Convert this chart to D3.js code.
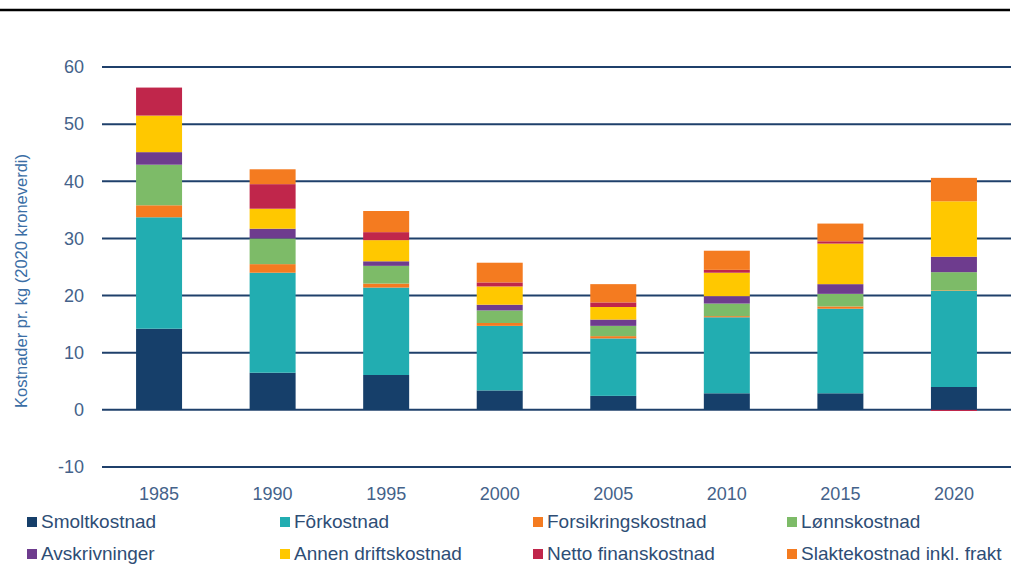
<!DOCTYPE html>
<html>
<head>
<meta charset="utf-8">
<script src="https://cdn.jsdelivr.net/npm/d3@7"></script>
<style>
  body { margin: 0; background: #fff; }
  svg { display: block; font-family: "Liberation Sans", Arial, sans-serif; }
</style>
</head>
<body>
<div id="chart"></div>
<script>
// data (NOK per kg, 2020 value)
const years = ["1985", "1990", "1995", "2000", "2005", "2010", "2015", "2020"];
const seriesNames = ["Smoltkostnad", "Fôrkostnad", "Forsikringskostnad", "Lønnskostnad",
  "Avskrivninger", "Annen driftskostnad", "Netto finanskostnad", "Slaktekostnad inkl. frakt"];
const smolt      = [14.2, 6.5, 6.1, 3.4, 2.45, 2.9, 2.9, 4.0];
const forkost    = [19.5, 17.5, 15.3, 11.3, 10.05, 13.3, 14.8, 16.8];
const forsikring = [2.1, 1.5, 0.7, 0.5, 0.4, 0.2, 0.4, 0.1];
const lonn       = [7.1, 4.5, 3.1, 2.2, 1.8, 2.2, 2.2, 3.2];
const avskr      = [2.2, 1.7, 0.8, 1.0, 1.1, 1.3, 1.7, 2.7];
const annen      = [6.4, 3.5, 3.7, 3.2, 2.2, 4.1, 7.1, 9.7];
const netto      = [4.9, 4.3, 1.4, 0.7, 0.8, 0.5, 0.4, -0.2];
const slakte     = [0, 2.6, 3.7, 3.45, 3.2, 3.35, 3.1, 4.1];
const yTicks = [-10, 0, 10, 20, 30, 40, 50, 60];
const colors = ["#163f6a", "#22adb1", "#f47b20", "#7dbb68", "#6e3c8e", "#ffc800", "#c0264b", "#f47b20"];

const allSeries = [smolt, forkost, forsikring, lonn, avskr, annen, netto, slakte];
const table = years.map((y, i) => {
  const row = { year: y };
  seriesNames.forEach((s, j) => { row[s] = allSeries[j][i]; });
  return row;
});

const W = 1018, H = 565;
const margin = { top: 67, right: 7, bottom: 98, left: 102 };
const width = W - margin.left - margin.right;
const height = H - margin.top - margin.bottom;

const svg = d3.select("#chart").append("svg").attr("width", W).attr("height", H);

// thin rule at the top of the figure
svg.append("line").attr("x1", 0).attr("x2", 1010).attr("y1", 10).attr("y2", 10)
  .attr("stroke", "#000").attr("stroke-width", 2.5);

const g = svg.append("g").attr("transform", `translate(${margin.left},${margin.top})`);

const x = d3.scaleBand().domain(years).range([0, width]).paddingInner(0.595).paddingOuter(0.3);
const y = d3.scaleLinear().domain([-10, 60]).range([height, 0]);

// grid
g.append("g").selectAll("line").data(yTicks).join("line")
  .attr("x1", 0).attr("x2", width)
  .attr("y1", d => y(d)).attr("y2", d => y(d))
  .attr("stroke", "#1f406b").attr("stroke-width", 2);

const yAxis = g.append("g").call(d3.axisLeft(y).tickValues(yTicks).tickSize(0).tickPadding(18)
  .tickFormat(d => String(d)));
yAxis.select(".domain").remove();
yAxis.selectAll("text").attr("fill", "#44628a").attr("font-size", 18)
  .attr("font-family", "Liberation Sans, Arial, sans-serif");

const stack = d3.stack().keys(seriesNames).offset(d3.stackOffsetDiverging);
const layers = stack(table);

g.append("g").selectAll("g").data(layers).join("g")
  .attr("fill", (d, i) => colors[i])
  .selectAll("rect").data(d => d).join("rect")
  .attr("x", d => x(d.data.year))
  .attr("width", x.bandwidth())
  .attr("y", d => y(Math.max(d[0], d[1])))
  .attr("height", d => Math.abs(y(d[0]) - y(d[1])));

// x labels
g.append("g").selectAll("text").data(years).join("text")
  .attr("x", d => x(d) + x.bandwidth() / 2)
  .attr("y", height + 33)
  .attr("text-anchor", "middle")
  .attr("fill", "#44628a").attr("font-size", 18)
  .text(d => d);

// y title
svg.append("text")
  .attr("transform", "translate(27,281) rotate(-90)")
  .attr("text-anchor", "middle")
  .attr("fill", "#3b6ea5").attr("font-size", 16.5)
  .text("Kostnader pr. kg (2020 kroneverdi)");

// legend
const legX = [27, 280, 533, 787];
const legend = svg.append("g").selectAll("g").data(seriesNames).join("g")
  .attr("transform", (d, i) => `translate(${legX[i % 4]},${522 + Math.floor(i / 4) * 32})`);
legend.append("rect").attr("x", 0).attr("y", -5).attr("width", 10).attr("height", 10)
  .attr("fill", (d, i) => colors[i]);
legend.append("text").attr("x", 14).attr("y", 6)
  .attr("fill", "#2e4d75").attr("font-size", 19)
  .text(d => d);
</script>
</body>
</html>
